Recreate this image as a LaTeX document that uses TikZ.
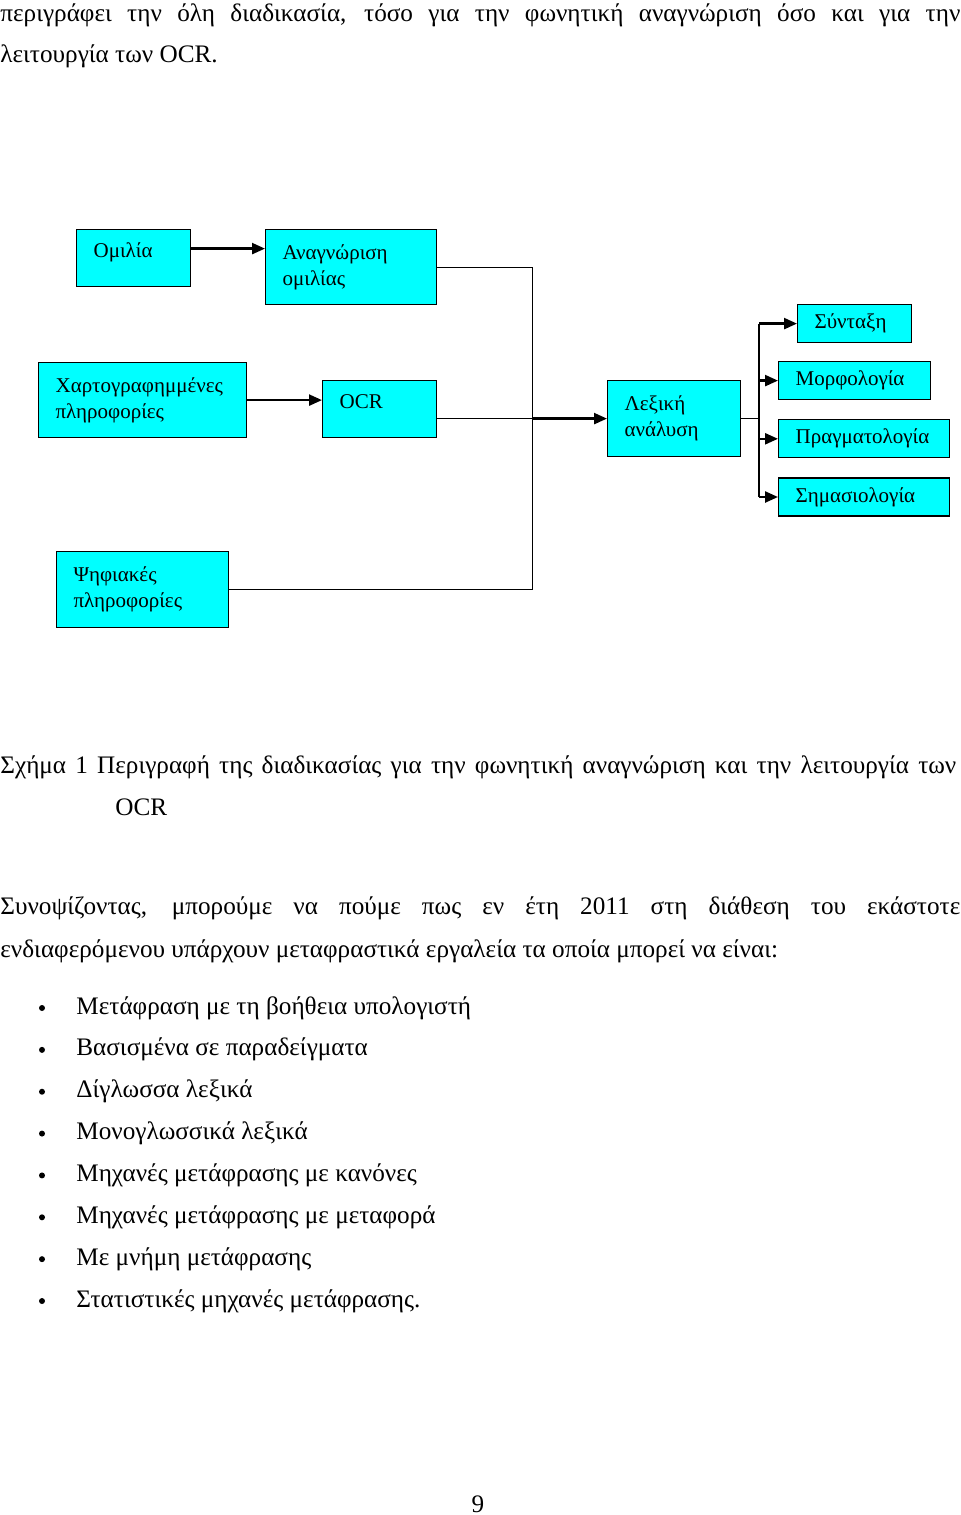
\documentclass[tikz,border=0pt]{standalone}
\usepackage{fontspec}
\setmainfont{Liberation Serif}
\usetikzlibrary{positioning,calc,arrows.meta}
\definecolor{boxcyan}{RGB}{0,255,255}

\begin{document}
\begin{tikzpicture}[
    x=0.5pt, y=-0.5pt,
    box/.style={rectangle, draw, line width=0.6pt, fill=boxcyan, anchor=north west, align=left, inner xsep=8.5pt, inner ysep=0pt, font=\fontsize{10.5}{13}\selectfont},
    highbox/.style={box, text depth=8pt},
    wire/.style={line width=0.6pt},
    arrow/.style={-{Triangle[length=6.5pt,width=5.5pt]}, line width=1.2pt},
    body/.style={anchor=base west, inner sep=0pt, font=\fontsize{12.6}{21}\selectfont},
    dot/.style={circle, fill, inner sep=0pt, minimum size=3pt}
]
\useasboundingbox (0,0) rectangle (960,1515);

% text above the figure
\node[body] (intro1) at (0,21) {\makebox[480pt][s]{περιγράφει την όλη διαδικασία, τόσο για την φωνητική αναγνώριση όσο και για την}};
\node[body] (intro2) at (0,62) {λειτουργία των OCR.};

% sources and recognition
\node[highbox, text width=40pt, minimum height=28.5pt] (speech) at (76,229) {Ομιλία};
\node[box, text width=68.5pt, minimum height=37.5pt] (asr) at (265,229) {Αναγνώριση\\ομιλίας};
\node[box, text width=87pt, minimum height=37.5pt] (mapped) at (38,362) {Χαρτογραφημμένες\\πληροφορίες};
\node[highbox, text width=40pt, minimum height=28.5pt] (ocr) at (322,380) {OCR};
\node[box, text width=69pt, minimum height=38pt] (digital) at (56,551) {Ψηφιακές\\πληροφορίες};

% analysis
\node[box, text width=49.5pt, minimum height=38pt] (lex) at (607,380) {Λεξική\\ανάλυση};
\node[box, text width=40pt, minimum height=19pt] (syntax) at (797,304) {Σύνταξη};
\node[box, text width=59pt, minimum height=19pt] (morph) at (778,361) {Μορφολογία};
\node[box, text width=68.5pt, minimum height=19pt, below=9.5pt of morph.south west, anchor=north west] (prag) {Πραγματολογία};
\node[box, text width=68.5pt, minimum height=19pt, below=9.5pt of prag.south west, anchor=north west] (sem) {Σημασιολογία};

\draw[arrow] ([yshift=4.75pt]speech.east) -- ([yshift=4.75pt]speech.east -| asr.west);
\draw[arrow] (mapped.east) -- (mapped.east -| ocr.west);

\coordinate (bus) at ($(asr.east)+(95,0)$);
\draw[wire] (asr.east) -- (bus) |- (digital.east);
\draw[wire] (lex.west -| ocr.east) -- (lex.west -| bus);
\draw[arrow] (lex.west -| bus) -- (lex.west);

\coordinate (fork) at ($(lex.east)+(18,0)$);
\draw[wire] (lex.east) -- (fork);
\draw[line width=0.9pt] (fork |- syntax.west) -- (fork |- sem.west);
\foreach \n in {syntax,morph,prag,sem}
    \draw[arrow] (fork |- \n.west) -- (\n.west);

% caption and text below
\node[body] (caption1) at (0,773) {\makebox[478pt][s]{Σχήμα 1 Περιγραφή της διαδικασίας για την φωνητική αναγνώριση και την λειτουργία των}};
\node[body] (caption2) at (115,815) {OCR};

\node[body] (summary1) at (0,914) {\makebox[480pt][s]{Συνοψίζοντας, μπορούμε να πούμε πως εν έτη 2011 στη διάθεση του εκάστοτε}};
\node[body] (summary2) at (0,957) {ενδιαφερόμενου υπάρχουν μεταφραστικά εργαλεία τα οποία μπορεί να είναι:};

\foreach \t [count=\i from 0] in {Μετάφραση με τη βοήθεια υπολογιστή, Βασισμένα σε παραδείγματα, Δίγλωσσα λεξικά, Μονογλωσσικά λεξικά, Μηχανές μετάφρασης με κανόνες, Μηχανές μετάφρασης με μεταφορά, Με μνήμη μετάφρασης, Στατιστικές μηχανές μετάφρασης.} {
    \node[dot] (dot\i) at (42,1008+41.86*\i) {};
    \node[body] (item\i) at (76,1014+41.86*\i) {\t};
}

\node[body, anchor=base] (pagenum) at (478,1512) {9};

\end{tikzpicture}
\end{document}
